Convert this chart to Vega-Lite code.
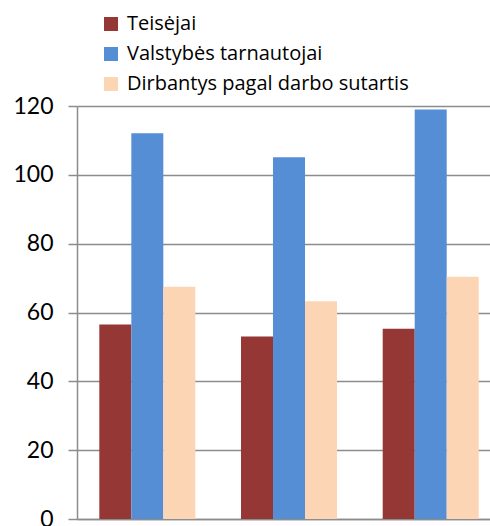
{
  "$schema": "https://vega.github.io/schema/vega-lite/v6.json",
  "width": 413,
  "height": 413,
  "autosize": {"type": "none"},
  "padding": {"left": 77, "top": 106, "right": 0, "bottom": 7},
  "background": "white",
  "config": {
    "view": {"stroke": null},
    "font": "Lato"
  },
  "data": {
    "values": [
      {"grupe": "1", "serija": "Teisėjai", "reiksme": 56.5},
      {"grupe": "1", "serija": "Valstybės tarnautojai", "reiksme": 112.1},
      {"grupe": "1", "serija": "Dirbantys pagal darbo sutartis", "reiksme": 67.5},
      {"grupe": "2", "serija": "Teisėjai", "reiksme": 53.0},
      {"grupe": "2", "serija": "Valstybės tarnautojai", "reiksme": 105.1},
      {"grupe": "2", "serija": "Dirbantys pagal darbo sutartis", "reiksme": 63.3},
      {"grupe": "3", "serija": "Teisėjai", "reiksme": 55.3},
      {"grupe": "3", "serija": "Valstybės tarnautojai", "reiksme": 119.0},
      {"grupe": "3", "serija": "Dirbantys pagal darbo sutartis", "reiksme": 70.4}
    ]
  },
  "mark": {"type": "bar"},
  "encoding": {
    "x": {
      "field": "grupe",
      "type": "nominal",
      "scale": {"paddingInner": 0.3225, "paddingOuter": 0.1186, "align": 0.664},
      "axis": {
        "title": null,
        "labels": false,
        "ticks": false,
        "domainColor": "#8c8c8c",
        "domainWidth": 1.5
      }
    },
    "xOffset": {
      "field": "serija",
      "type": "nominal",
      "sort": ["Teisėjai", "Valstybės tarnautojai", "Dirbantys pagal darbo sutartis"],
      "scale": {"paddingInner": 0, "paddingOuter": 0}
    },
    "y": {
      "field": "reiksme",
      "type": "quantitative",
      "scale": {"domain": [0, 120], "nice": false},
      "axis": {
        "title": null,
        "values": [0, 20, 40, 60, 80, 100, 120],
        "labelFontSize": 23,
        "labelColor": "#000000",
        "labelPadding": 15,
        "tickSize": 9,
        "tickColor": "#8c8c8c",
        "tickWidth": 1.5,
        "domainColor": "#8c8c8c",
        "domainWidth": 1.5,
        "grid": true,
        "gridColor": "#8c8c8c",
        "gridWidth": 1.5
      }
    },
    "color": {
      "field": "serija",
      "type": "nominal",
      "sort": ["Teisėjai", "Valstybės tarnautojai", "Dirbantys pagal darbo sutartis"],
      "scale": {
        "domain": ["Teisėjai", "Valstybės tarnautojai", "Dirbantys pagal darbo sutartis"],
        "range": ["#953735", "#558ED5", "#FCD5B5"]
      },
      "legend": {
        "title": null,
        "orient": "none",
        "legendX": 24,
        "legendY": -92,
        "direction": "vertical",
        "symbolType": "square",
        "symbolSize": 196,
        "symbolStrokeWidth": 0,
        "labelFont": "Open Sans",
        "labelFontSize": 20,
        "labelColor": "#000000",
        "labelOffset": 6,
        "rowPadding": 10,
        "labelLimit": 400
      }
    }
  }
}
